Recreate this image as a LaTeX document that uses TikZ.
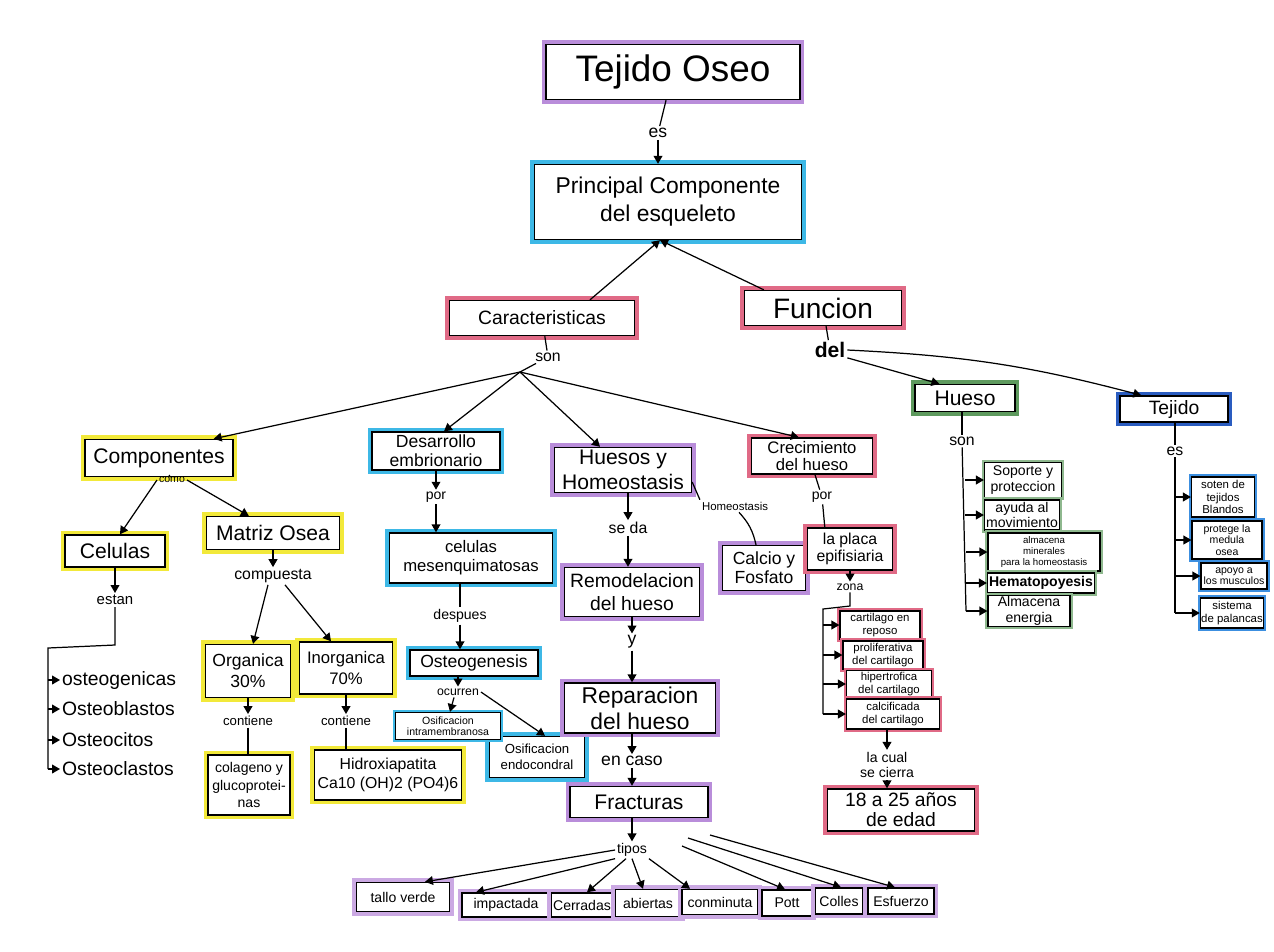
\documentclass[tikz,border=0pt]{standalone}
\usepackage{fontspec}
\setmainfont{Liberation Sans}
\usetikzlibrary{arrows.meta,calc}
\newcommand\fz[2]{\fontsize{#1}{#2}\selectfont}
\definecolor{hlY}{HTML}{F2E93A}
\definecolor{hlC}{HTML}{3DB8E6}
\definecolor{hlP}{HTML}{B98DDA}
\definecolor{hlR}{HTML}{E06A86}
\definecolor{hlG}{HTML}{5E9A5E}
\definecolor{hlB}{HTML}{2A5CC0}
\definecolor{hlL}{HTML}{3C8FE0}
\begin{document}
\begin{tikzpicture}[x=0.02cm,y=-0.02cm,
  hb/.style={draw=black, line width=0.8pt, fill=white, align=center, inner sep=1pt,
             preaction={draw=#1, line width=5pt}},
  hbs/.style={draw=black, line width=0.7pt, fill=white, align=center, inner sep=0.5pt,
             preaction={draw=#1, line width=3pt}},
  sz/.style 2 args={minimum width=#1*0.02cm, minimum height=#2*0.02cm},
  lab/.style={inner sep=1pt, align=center},
  ln/.style={line width=0.7pt},
  arr/.style={line width=0.7pt, -{Triangle[width=5pt,length=4.5pt]}},
]
\path[fill=white] (0,0) rectangle (1274,951);

% top
\node[hb=hlP, sz={254}{55}, font=\fz{21}{24}] (to) at (673,72) {Tejido Oseo};
\node[lab, font=\fz{10}{11}] (es1) at (658,133) {es};
\node[hb=hlC, sz={267}{75}, font=\fz{13}{16}] (pc) at (668,202) {Principal Componente\\del esqueleto};
\node[hb=hlR, sz={185}{35}, font=\fz{11}{13}] (car) at (542,318) {Caracteristicas};
\node[hb=hlR, sz={157}{35}, font=\fz{16}{18}] (fun) at (823,308) {Funcion};
\node[lab, font=\fz{9}{10}] (son1) at (548,357) {son};
\coordinate (hub) at (520,372);
\node[lab, font=\bfseries\fz{12}{13}] (del) at (830,350) {del};

% left: componentes
\node[hb=hlY, sz={148}{37}, font=\fz{12}{14}] (comp) at (159,458) {Componentes};
\node[lab, font=\fz{6}{7}] (como) at (172,480) {como};
\node[hb=hlY, sz={100}{32}, font=\fz{12}{14}] (cel) at (115,551) {Celulas};
\node[hb=hlY, sz={133}{33}, font=\fz{12}{14}] (mat) at (273,533) {Matriz Osea};
\node[lab, font=\fz{8.5}{10}] (estan) at (115,600) {estan};
\node[lab, anchor=west, font=\fz{11}{12}] (ogen) at (60,680) {osteogenicas};
\node[lab, anchor=west, font=\fz{11}{12}] (oblast) at (60,709) {Osteoblastos};
\node[lab, anchor=west, font=\fz{11}{12}] (ocit) at (60,740) {Osteocitos};
\node[lab, anchor=west, font=\fz{11}{12}] (oclas) at (60,769) {Osteoclastos};
\node[lab, font=\fz{9}{10}] (compu) at (273,576) {compuesta};
\node[hb=hlY, sz={85}{53}, font=\fz{10}{12}] (org) at (248,671) {Organica\\30\%};
\node[hb=hlY, sz={93}{52}, font=\fz{9.5}{12}] (inorg) at (346,668) {Inorganica\\70\%};
\node[lab, font=\fz{7.5}{9}] (cont1) at (248,721) {contiene};
\node[lab, font=\fz{7.5}{9}] (cont2) at (346,721) {contiene};
\node[hb=hlY, sz={82}{60}, font=\fz{8}{10}] (col) at (249,785) {colageno y\\glucoprotei-\\nas};
\node[hb=hlY, sz={147}{50}, font=\fz{9}{11}] (hid) at (388,775) {Hidroxiapatita\\Ca10 (OH)2 (PO4)6};

% desarrollo
\node[hb=hlC, sz={128}{38}, font=\fz{10}{11}] (des) at (436,451) {Desarrollo\\embrionario};
\node[lab, font=\fz{8}{9}] (por1) at (436,497) {por};
\node[hb=hlC, sz={163}{50}, font=\fz{9.5}{11}] (mes) at (471,558) {celulas\\mesenquimatosas};
\node[lab, font=\fz{8}{9}] (desp) at (460,616) {despues};
\node[hb=hlC, sz={128}{26}, font=\fz{10}{11}] (ostg) at (474,663) {Osteogenesis};
\node[lab, font=\fz{7}{8}] (ocu) at (458,692) {ocurren};
\node[hb=hlC, sz={95}{41}, font=\fz{7.5}{9}] (osi2) at (537,757) {Osificacion\\endocondral};
\node[hbs=hlC, sz={105}{27}, font=\fz{6}{6.5}] (osi1) at (448,726) {Osificacion\\intramembranosa};

% huesos y homeostasis
\node[hb=hlP, sz={137}{45}, font=\fz{12}{14}] (hyh) at (623,470) {Huesos y\\Homeostasis};
\node[lab, font=\fz{9}{10}] (seda) at (628,528) {se da};
\node[hb=hlP, sz={135}{49}, font=\fz{11}{13}] (rem) at (632,592) {Remodelacion\\del hueso};
\node[lab, font=\fz{10}{11}] (y1) at (632,642) {y};
\node[hb=hlP, sz={151}{50}, font=\fz{13}{15}] (rep) at (640,708) {Reparacion\\del hueso};
\node[lab, font=\fz{10}{11}] (enc) at (632,761) {en caso};
\node[hb=hlP, sz={138}{31}, font=\fz{12}{14}] (fra) at (639,802) {Fracturas};
\node[lab, font=\fz{8}{9}] (tip) at (632,850) {tipos};
\begin{scope}[every node/.append style={hb=hlP!75, font=\fz{8}{9}}]
\node[sz={93}{29}] (f1) at (403,897) {tallo verde};
\node[sz={88}{24}] (f2) at (506,905) {impactada};
\node[sz={59}{24}] (f3) at (582,905) {Cerradas};
\node[sz={65}{27}] (f4) at (648,903) {abiertas};
\node[sz={76}{25}] (f5) at (720,902) {conminuta};
\node[sz={50}{26}] (f6) at (787,903) {Pott};
\node[sz={47}{26}] (f7) at (839,901) {Colles};
\node[sz={66}{26}] (f8) at (901,901) {Esfuerzo};
\end{scope}
\node[lab, font=\fz{6.5}{7}] (homl) at (735,506) {Homeostasis};
\node[hb=hlP, sz={83}{45}, font=\fz{10}{11}] (cal) at (764,568) {Calcio y\\Fosfato};

% crecimiento
\node[hb=hlR, sz={121}{36}, font=\fz{9.5}{10}] (cre) at (812,456) {Crecimiento\\del hueso};
\node[lab, font=\fz{8}{9}] (por2) at (822,497) {por};
\node[hb=hlR, sz={85}{42}, font=\fz{9}{10}] (pla) at (850,549) {la placa\\epifisiaria};
\node[lab, font=\fz{7}{8}] (zon) at (850,587) {zona};
\begin{scope}[every node/.append style={hbs=hlR, font=\fz{6.5}{7}}]
\node[sz={80}{28}] (z1) at (880,625) {cartilago en\\reposo};
\node[sz={80}{28}] (z2) at (883,655) {proliferativa\\del cartilago};
\node[sz={85}{27}] (z3) at (889,684) {hipertrofica\\del cartilago};
\node[sz={93}{30}] (z4) at (893,714) {calcificada\\del cartilago};
\end{scope}
\node[lab, font=\fz{8}{9}] (lac) at (887,765) {la cual\\se cierra};
\node[hb=hlR, sz={147}{42}, font=\fz{11}{11.5}] (edad) at (901,810) {18 a 25 años\\de edad};

% hueso
\node[hb=hlG, sz={100}{27}, font=\fz{12}{13}] (hue) at (965,398) {Hueso};
\node[lab, font=\fz{9}{10}] (son2) at (962,441) {son};
\begin{scope}[every node/.append style={hbs=hlG!70}]
\node[sz={77}{35}, font=\fz{8}{9}] (g1) at (1023,480) {Soporte y\\proteccion};
\node[sz={75}{30}, font=\fz{8}{9}] (g2) at (1022,515) {ayuda al\\movimiento};
\node[sz={112}{38}, font=\fz{5.5}{6}] (g3) at (1044,552) {almacena\\minerales\\para la homeostasis};
\node[sz={107}{20}, font=\bfseries\fz{8}{9}] (g4) at (1041,583) {Hematopoyesis};
\node[sz={82}{30}, font=\fz{8}{9}] (g5) at (1029,611) {Almacena\\energia};
\end{scope}

% tejido
\node[hb=hlB, sz={108}{26}, font=\fz{11}{12}] (tej) at (1174,409) {Tejido};
\node[lab, font=\fz{9}{10}] (es2) at (1175,451) {es};
\begin{scope}[every node/.append style={hbs=hlL, font=\fz{6.5}{7}}]
\node[sz={63}{40}] (t1) at (1223,497) {soten de\\tejidos\\Blandos};
\node[sz={70}{38}, font=\fz{6}{6.5}] (t2) at (1227,540) {protege la\\medula\\osea};
\node[sz={66}{26}, font=\fz{6}{6.5}] (t3) at (1234,576) {apoyo a\\los musculos};
\node[sz={59}{30}] (t4) at (1232,613) {sistema\\de palancas};
\end{scope}

% ---------- connectors ----------
\draw[ln] (to) -- (es1);
\draw[arr] (es1) -- (es1 |- pc.north);
\draw[arr] ($(car.north)+(48,0)$) -- ($(pc.south)+(-8,0)$);
\draw[arr] ($(fun.north west)+(20,0)$) -- ($(pc.south)+(-8,0)$);
\draw[ln] (car) -- (son1);
\draw[ln] (son1) -- (hub);
\draw[arr] (hub) -- ($(comp.north east)+(-20,0)$);
\draw[arr] (hub) -- ($(des.north)+(8,0)$);
\draw[arr] (hub) -- ($(hyh.north)+(-23,0)$);
\draw[arr] (hub) -- ($(cre.north west)+(48,0)$);
\draw[ln] (fun) -- (del);
\draw[arr] ($(del.south east)+(0,-2)$) -- ($(hue.north west)+(25,0)$);
\draw[arr] (del.east) to[bend left=6] ($(tej.north west)+(22,0)$);

% componentes
\draw[ln] (comp) -- (como);
\draw[arr] (como.west) -- ($(cel.north)+(5,0)$);
\draw[arr] (como.east) -- ($(mat.north west)+(43,0)$);
\draw[arr] (cel) -- (estan);
\coordinate (b1) at (115,645);
\coordinate (b2) at (48,648);
\coordinate (b3) at (48,769);
\draw[ln] (estan) -- (b1) -- (b2) -- (b3);
\coordinate (a1) at (48,680);
\coordinate (a2) at (48,709);
\coordinate (a3) at (48,740);
\draw[arr] (a1) -- (ogen);
\draw[arr] (a2) -- (oblast);
\draw[arr] (a3) -- (ocit);
\draw[arr] (b3) -- (oclas);
\draw[arr] (mat) -- (compu);
\draw[arr] ($(compu.south)+(-5,0)$) -- ($(org.north)+(5,0)$);
\draw[arr] ($(compu.south)+(12,0)$) -- ($(inorg.north)+(-15,0)$);
\draw[arr] (org) -- (cont1);
\draw[ln] (cont1) -- (cont1 |- col.north);
\draw[arr] (inorg) -- (cont2);
\draw[ln] (cont2) -- (cont2 |- hid.north);

% desarrollo
\draw[arr] (des) -- (por1);
\draw[arr] (por1) -- (por1 |- mes.north);
\draw[ln] (desp |- mes.south) -- (desp);
\draw[arr] (desp) -- (desp |- ostg.north);
\draw[arr] (ocu |- ostg.south) -- (ocu);
\draw[arr] ($(ocu.south)+(-4,0)$) -- ($(osi1.north)+(2,0)$);
\draw[arr] (ocu.east) -- ($(osi2.north)+(8,0)$);

% huesos y homeostasis
\draw[arr] (seda |- hyh.south) -- (seda);
\draw[arr] (seda) -- (seda |- rem.north);
\draw[arr] (y1 |- rem.south) -- (y1);
\draw[arr] (y1) -- (y1 |- rep.north);
\draw[arr] (enc |- rep.south) -- (enc);
\draw[arr] (enc) -- (enc |- fra.north);
\draw[arr] (tip |- fra.south) -- (tip);
\draw[arr] (tip.west) -- ($(f1.north)+(22,0)$);
\draw[arr] (tip.south west) -- ($(f2.north)+(-30,0)$);
\draw[arr] ($(tip.south)+(-6,0)$) -- ($(f3.north)+(5,0)$);
\draw[arr] (tip.south) -- ($(f4.north)+(-5,0)$);
\draw[arr] (tip.south east) -- ($(f5.north)+(-30,0)$);
\coordinate (s6) at (682,846);
\coordinate (s7) at (688,838);
\coordinate (s8) at (710,835);
\draw[arr] (s6) -- ($(f6.north)+(-2,0)$);
\draw[arr] (s7) -- ($(f7.north)+(2,0)$);
\draw[arr] (s8) -- ($(f8.north)+(-6,0)$);
\draw[ln] ($(hyh.east)+(0,12)$) -- (homl.north west);
\draw[ln] ($(homl.south)+(4,0)$) to[bend left=15] ($(cal.north)+(-8,0)$);

% crecimiento
\draw[ln] ($(cre.south)+(3,0)$) -- (por2);
\draw[ln] (por2) -- ($(pla.north west)+(18,0)$);
\draw[arr] (zon |- pla.south) -- (zon);
\coordinate (zb1) at (850,606);
\coordinate (zb2) at (823,609);
\coordinate (zb3) at (823,714);
\draw[ln] (zon) -- (zb1) -- (zb2) -- (zb3);
\coordinate (za1) at (823,625);
\coordinate (za2) at (823,655);
\coordinate (za3) at (823,684);
\draw[arr] (za1) -- (z1.west);
\draw[arr] (za2) -- (z2.west);
\draw[arr] (za3) -- (z3.west);
\draw[arr] (zb3) -- (z4.west);
\draw[arr] (lac |- z4.south) -- (lac);
\draw[arr] (lac) -- (lac |- edad.north);

% hueso
\draw[ln] (son2 |- hue.south) -- (son2);
\coordinate (gb) at (966,611);
\draw[ln] (son2) -- (gb);
\coordinate (ga1) at (965,480);
\coordinate (ga2) at (965,515);
\coordinate (ga3) at (966,552);
\coordinate (ga4) at (966,583);
\draw[arr] (ga1) -- (g1.west);
\draw[arr] (ga2) -- (g2.west);
\draw[arr] (ga3) -- (g3.west);
\draw[arr] (ga4) -- (g4.west);
\draw[arr] (gb) -- (g5.west);

% tejido
\draw[ln] (es2 |- tej.south) -- (es2);
\coordinate (tb) at (1175,613);
\draw[ln] (es2) -- (tb);
\coordinate (ta1) at (1174,497);
\coordinate (ta2) at (1174,540);
\coordinate (ta3) at (1175,576);
\draw[arr] (ta1) -- (t1.west);
\draw[arr] (ta2) -- (t2.west);
\draw[arr] (ta3) -- (t3.west);
\draw[arr] (tb) -- (t4.west);
\end{tikzpicture}
\end{document}
